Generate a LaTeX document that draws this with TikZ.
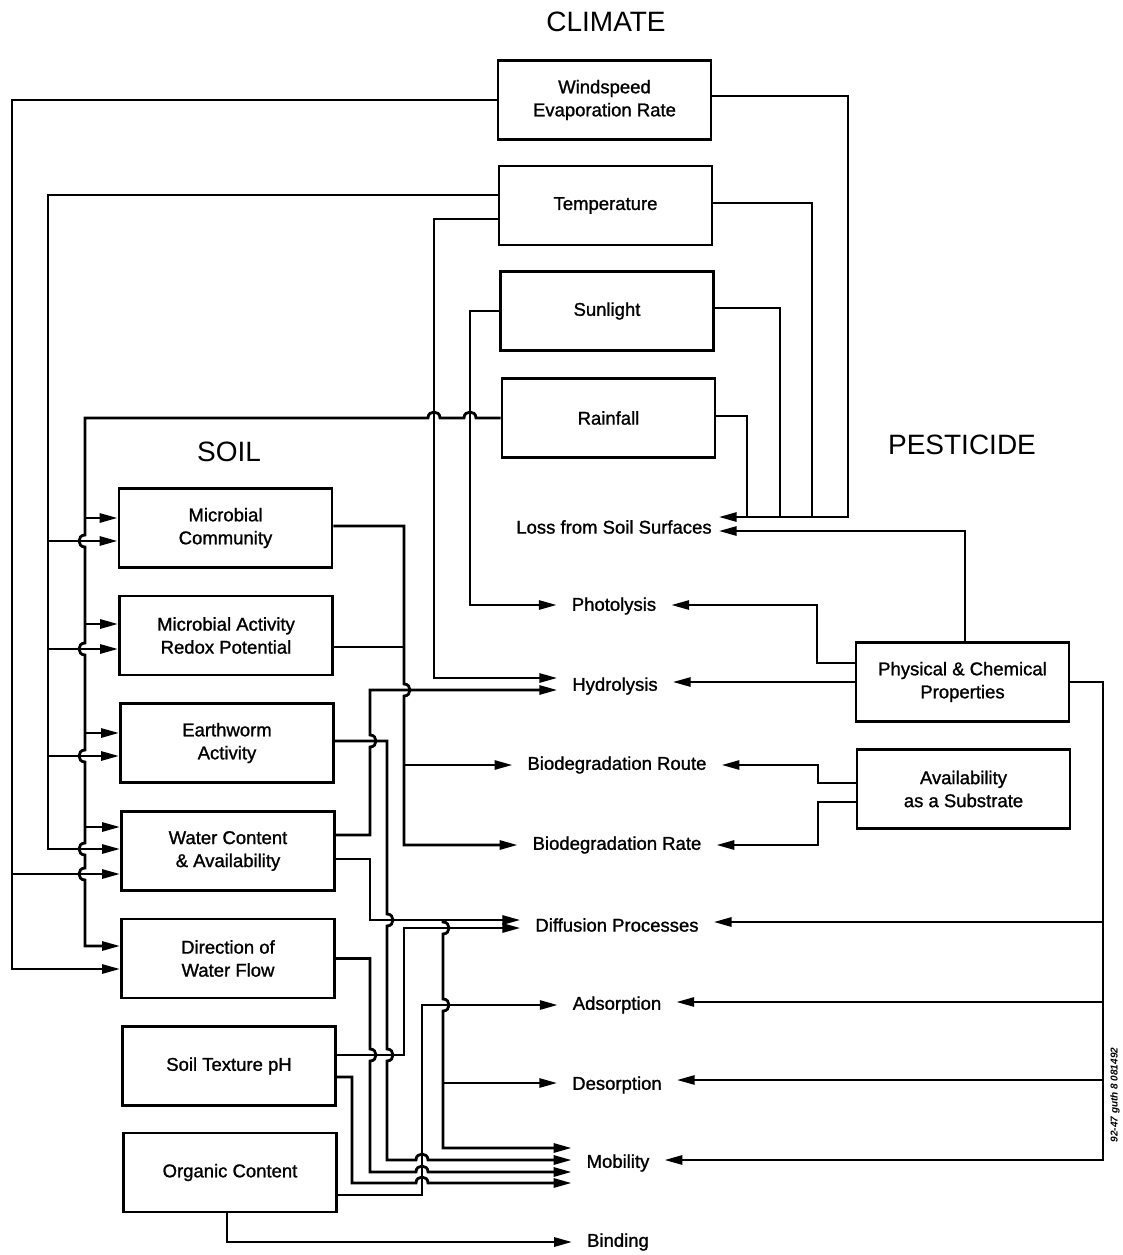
\documentclass[tikz,border=0pt]{standalone}
\usepackage{fontspec}
\setmainfont{Liberation Sans}
\newfontfamily\dfont{Liberation Sans}[FakeBold=1.2]
\usetikzlibrary{arrows.meta}
\begin{document}
\begin{tikzpicture}[x=1pt,y=-1pt,
  ln/.style={line width=2.8pt},
  arr/.style={ln, -{Triangle[length=18pt,width=9pt]}},
  box/.style={draw, line width=2.8pt, minimum width=213pt, minimum height=79pt, align=center, inner sep=0pt, font=\dfont\fontsize{18.5}{23}\selectfont},
  lab/.style={inner sep=0pt, outer xsep=15pt, font=\dfont\fontsize{18.5}{23}\selectfont},
  ttl/.style={inner sep=0pt, font=\fontsize{28}{32}\selectfont},
  hopDR/.style 2 args={insert path={-- (#1,#2-6) .. controls (#1+8,#2-6) and (#1+8,#2+6) .. (#1,#2+6)}},
  hopDL/.style 2 args={insert path={-- (#1,#2-6) .. controls (#1-8,#2-6) and (#1-8,#2+6) .. (#1,#2+6)}},
  hopUR/.style 2 args={insert path={-- (#1,#2+6) .. controls (#1+8,#2+6) and (#1+8,#2-6) .. (#1,#2-6)}},
  hopRU/.style 2 args={insert path={-- (#1-6,#2) .. controls (#1-6,#2-8) and (#1+6,#2-8) .. (#1+6,#2)}},
  hopLU/.style 2 args={insert path={-- (#1+6,#2) .. controls (#1+6,#2-8) and (#1-6,#2-8) .. (#1-6,#2)}}
]
\useasboundingbox (0,0) rectangle (1122,1255);
\fill[white] (0,0) rectangle (1122,1255);

% titles
\node[ttl] (climate) at (606,22) {CLIMATE};
\node[ttl] (soil) at (229,452) {SOIL};
\node[ttl] (pest) at (962,445) {PESTICIDE};

% climate boxes
\node[box] (wind) at (604.5,100) {Windspeed\\Evaporation Rate};
\node[box] (temp) at (605.5,205.5) {Temperature};
\node[box] (sun) at (607,311) {Sunlight};
\node[box] (rain) at (608.5,418) {Rainfall};

% soil boxes
\node[box] (mc) at (225.5,528) {Microbial\\Community};
\node[box] (ma) at (226,635.5) {Microbial Activity\\Redox Potential};
\node[box] (ew) at (227,743) {Earthworm\\Activity};
\node[box] (wc) at (228,851) {Water Content\\\& Availability};
\node[box] (dwf) at (228,958.5) {Direction of\\Water Flow};
\node[box] (st) at (229,1066) {Soil Texture pH};
\node[box] (oc) at (230,1172.5) {Organic Content};

% pesticide boxes
\node[box] (pcp) at (962.5,682) {Physical \& Chemical\\Properties};
\node[box] (avs) at (963.5,789) {Availability\\as a Substrate};

% process labels
\node[lab, outer xsep=7pt] (loss) at (614,527) {Loss from Soil Surfaces};
\node[lab] (photo) at (614,606) {Photolysis};
\node[lab] (hydro) at (615,686) {Hydrolysis};
\node[lab] (bior) at (617,765) {Biodegradation Route};
\node[lab] (biorate) at (617,845) {Biodegradation Rate};
\node[lab] (diff) at (617,925) {Diffusion Processes};
\node[lab] (ads) at (617,1005) {Adsorption};
\node[lab] (des) at (617,1085) {Desorption};
\node[lab] (mob) at (618,1163) {Mobility};
\node[lab] (bind) at (618,1242) {Binding};

\node[rotate=90, inner sep=0pt, font=\fontsize{10}{12}\selectfont\bfseries\itshape] (code) at (1115,1095) {92-47 guth 8 081492};

% ---- climate -> soil (left side)
\draw[arr] (wind.west) -- (12,100) -- (12,969) -- (dwf.west |- 0,969);
\draw[arr] (12,874) -- (wc.west |- 0,874);

\draw[arr] ([yshift=10.5pt]temp.west) -| (48,849) -- (wc.west |- 0,849);
\draw[arr] (48,541) -- (mc.west |- 0,541);
\draw[arr] (48,649) -- (ma.west |- 0,649);
\draw[arr] (48,756) -- (ew.west |- 0,756);

\draw[arr] (rain.west) [hopLU={470}{418}] [hopLU={434}{418}] -- (85,418)
  [hopDL={85}{541}] [hopDL={85}{649}] [hopDL={85}{756}] [hopDL={85}{849}] [hopDL={85}{874}]
  -- (85,946) -- (dwf.west |- 0,946);
\draw[arr] (85,518) -- (mc.west |- 0,518);
\draw[arr] (85,624) -- (ma.west |- 0,624);
\draw[arr] (85,733) -- (ew.west |- 0,733);
\draw[arr] (85,827) -- (wc.west |- 0,827);

% ---- climate -> photolysis / hydrolysis
\draw[arr] ([yshift=-13.5pt]temp.west) -| (434,678) -- (hydro.west |- 0,678);
\draw[arr] (sun.west) -| (470,605) -- (photo.west |- 0,605);

% ---- climate -> loss
\draw[arr] ([yshift=4pt]wind.east) -| (848,517) -- (loss.east |- 0,517);
\draw[ln] ([yshift=2.5pt]temp.east) -| (812,517);
\draw[ln] ([yshift=3pt]sun.east) -| (780,517);
\draw[ln] ([yshift=2pt]rain.east) -| (747,517);

% ---- pesticide
\draw[arr] ([xshift=2.5pt]pcp.north) |- (loss.east |- 0,531);
\draw[arr] ([yshift=19pt]pcp.west) -| (817,605) -- (photo.east |- 0,605);
\draw[arr] (pcp.west) -- (hydro.east |- pcp.west);
\draw[arr] (pcp.east) -| (1103,1160) -- (mob.east |- 0,1160);
\draw[arr] (1103,922) -- (diff.east |- 0,922);
\draw[arr] (1103,1002) -- (ads.east |- 0,1002);
\draw[arr] (1103,1080) -- (des.east |- 0,1080);
\draw[arr] ([yshift=6pt]avs.west) -| (818,765) -- (bior.east |- 0,765);
\draw[arr] ([yshift=-13pt]avs.west) -| (818,845) -- (biorate.east |- 0,845);

% ---- soil -> processes
\draw[arr] ([yshift=2pt]mc.east) -- (404,526) [hopDR={404}{690}] -- (404,845) -- (biorate.west |- 0,845);
\draw[ln] ([yshift=-11.5pt]ma.east) -- (404,647);
\draw[arr] (404,765) -- (bior.west |- 0,765);

\draw[arr] ([yshift=16pt]wc.east) -- (370,835) [hopUR={370}{741}] -- (370,690) -- (hydro.west |- 0,690);
\draw[arr] ([yshift=-8pt]wc.east) -- (370,859) -- (370,920) -- (diff.west |- 0,920);
\draw[arr] (443,920) [hopDR={443}{928}] [hopDR={443}{1005}] -- (443,1148) -- (mob.west |- 0,1148);
\draw[arr] (443,1083) -- (des.west |- 0,1083);

\draw[arr] ([yshift=2pt]ew.east) -- (387,741) [hopDR={387}{920}] [hopDR={387}{1055}] -- (387,1160) [hopRU={422}{1160}] -- (mob.west |- 0,1160);
\draw[arr] (dwf.east) -- (370,958.5) [hopDR={370}{1055}] -- (370,1172) [hopRU={422}{1172}] -- (mob.west |- 0,1172);
\draw[arr] ([yshift=11pt]st.east) -- (404,1055) -- (404,928) -- (diff.west |- 0,928);
\draw[arr] ([yshift=-11pt]st.east) -- (352,1077) -- (352,1183) [hopRU={422}{1183}] -- (mob.west |- 0,1183);
\draw[arr] ([yshift=-22.5pt]oc.east) -- (422,1195) -- (422,1005) -- (ads.west |- 0,1005);
\draw[arr] ([xshift=-3pt]oc.south) |- (bind.west |- 0,1242);
\end{tikzpicture}
\end{document}
